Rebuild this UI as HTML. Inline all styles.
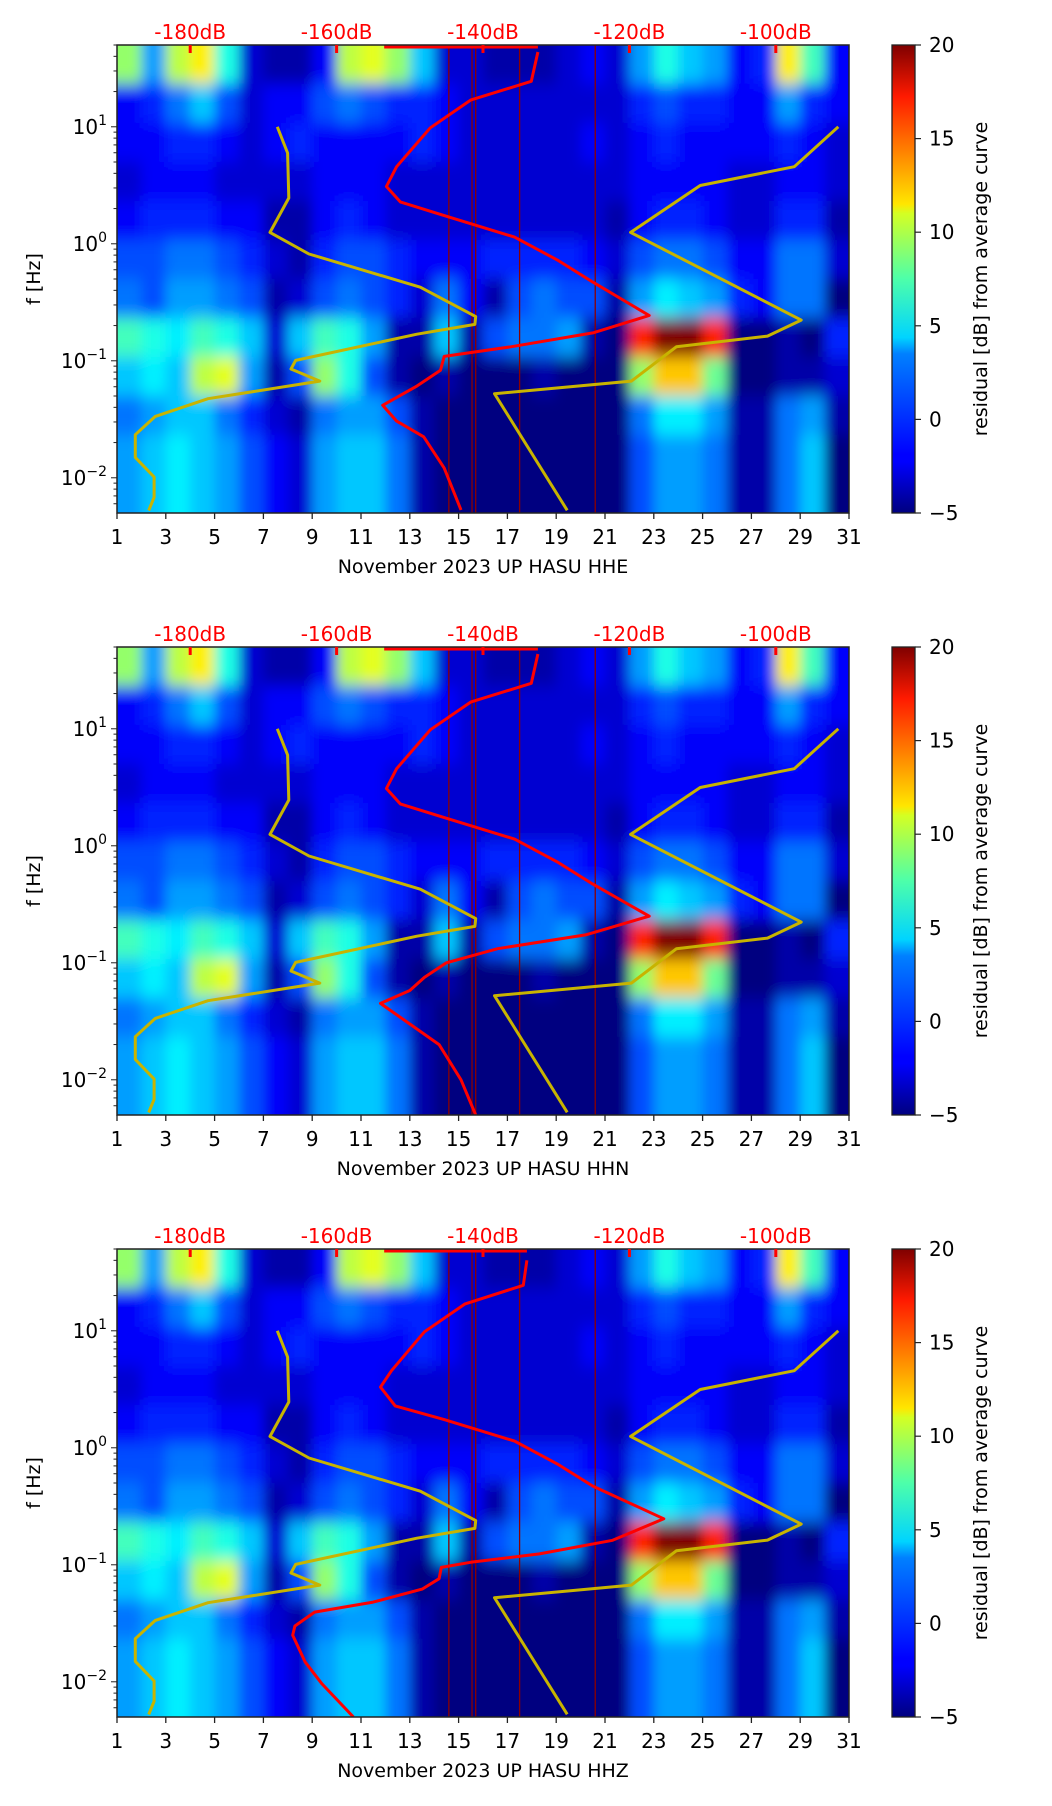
<!DOCTYPE html>
<html><head><meta charset="utf-8">
<style>
html,body{margin:0;padding:0;background:#fff;}
body{width:1052px;height:1806px;overflow:hidden;}
svg{display:block;font-family:"DejaVu Sans","Liberation Sans",sans-serif;}
</style></head>
<body>
<svg id="fig" width="1052" height="1806" viewBox="0 0 1052 1806" xmlns="http://www.w3.org/2000/svg">
<defs>
<linearGradient id="jet" x1="0" y1="1" x2="0" y2="0">
<stop offset="0" stop-color="#00007f"/><stop offset="0.11" stop-color="#0000ff"/><stop offset="0.125" stop-color="#0000ff"/>
<stop offset="0.34" stop-color="#0080ff"/><stop offset="0.375" stop-color="#00d4ff"/><stop offset="0.5" stop-color="#4dffaa"/>
<stop offset="0.64" stop-color="#d4ff23"/><stop offset="0.66" stop-color="#ffe600"/><stop offset="0.89" stop-color="#ff1a00"/>
<stop offset="1" stop-color="#7f0000"/>
</linearGradient>
<filter id="blur" x="-5%" y="-5%" width="110%" height="110%"><feGaussianBlur stdDeviation="6 8" edgeMode="duplicate"/></filter>
</defs>
</svg>
<script>
// ---- data ----
const days = [1,2,3,4,5,6,7,8,9,10,11,12,13,14,15,16,17,18,19,20,21,22,23,24,25,26,27,28,29,30];
const bandLogTop = [1.7,1.367,1.033,0.7,0.367,0.033,-0.3,-0.633,-0.967,-1.3,-1.633,-1.967];
const resid = [
 [8,2,9,11,5,-3,-4,-4,-2,9,10,8,3,-3,-3,-4,-4,-4,-3,-2,-3,2,5,3,2,-2,-1,11,6,-2],
 [-2,-1,1,3,0,-3,-2,-2,0,1,0,-1,-1,-2,-3,-3,-3,-3,-3,-3,-3,-1,0,-1,-1,-2,-2,2,-1,-2],
 [-2,-2,-1,-1,-2,-3,-2,-1,-2,-2,-2,-2,-1,-2,-3,-3,-3,-3,-3,-2,-3,-2,-1,-2,-2,-2,-2,-1,-2,-3],
 [-3,-2,-2,-2,-3,-3,-3,-3,-2,-2,-2,-3,-3,-3,-3,-3,-3,-3,-3,-3,-3,-2,-2,-2,-2,-3,-3,-2,-2,-3],
 [-2,-1,-1,-1,-2,-2,-4,-4,-2,-1,-2,-3,-3,-3,-3,-3,-3,-3,-3,-3,-4,-2,-1,-1,-2,-3,-3,-1,-1,-4],
 [0,0,1,1,0,-1,-3,-4,-1,0,0,-1,-2,-2,-2,-1,-1,-1,-1,-2,-3,0,1,1,0,-2,-2,1,1,-3],
 [1,0,2,2,1,0,-4,-3,0,1,0,-1,-3,1,-2,-4,0,1,0,0,-4,2,4,3,2,-1,-2,1,1,-5],
 [6,5,4,6,5,3,-3,3,6,5,2,-4,-4,3,-4,0,1,1,2,-4,-5,16,25,25,16,-5,-5,-4,-5,-1],
 [3,4,3,9,10,2,-4,0,8,5,0,-4,-5,-4,-5,-5,-5,-4,-5,-5,-5,8,12,12,7,-5,-5,-4,-4,-3],
 [1,2,3,3,1,-1,-3,-4,1,2,2,0,-4,-5,-5,-5,-5,-5,-5,-5,-5,1,4,4,2,-4,-4,1,2,-4],
 [2,3,4,3,2,0,-2,-3,2,3,3,1,-4,-5,-5,-5,-5,-5,-5,-5,-5,0,2,2,1,-4,-4,1,3,-5],
 [2,3,4,3,2,0,-2,-3,2,3,3,1,-4,-5,-5,-5,-5,-5,-5,-5,-5,0,2,2,1,-4,-4,1,3,-5]
];
const xTicks = [1,3,5,7,9,11,13,15,17,19,21,23,25,27,29,31];
const topTicksDb = [-180,-160,-140,-120,-100];
const cbTicks = [-5,0,5,10,15,20];
const darkLines = [14.6,15.55,15.7,17.5,20.6];
const redFreq1 = [43.6,24.5,16.9,9.8,4.56,3.09,2.28,1.74,1.14,0.718,0.47,0.244,0.173,0.132,0.109,0.083,0.061,0.0416,0.0305,0.0224,0.0121,0.0053];
const redDb1 = [-132.5,-133.4,-141.7,-147.2,-151.8,-153.2,-151.3,-145.3,-135.7,-129.7,-125,-117.3,-125,-136.1,-145.3,-145.8,-149,-153.7,-151.8,-148.1,-145.3,-143];
const redFreq2 = [43.6,24.5,16.9,9.8,4.56,3.09,2.28,1.74,1.14,0.718,0.47,0.25,0.173,0.132,0.1,0.075,0.058,0.045,0.03,0.02,0.01,0.005];
const redDb2 = [-132.5,-133.4,-141.7,-147.2,-151.8,-153.2,-151.3,-145.3,-135.7,-129.7,-125,-117.3,-126,-138,-145,-148,-150,-154,-150,-146,-143,-141];
const redFreq3 = [40,24.5,16.9,9.8,4.56,3.3,2.28,1.74,1.14,0.718,0.47,0.247,0.162,0.124,0.105,0.095,0.076,0.062,0.048,0.0394,0.030,0.025,0.0148,0.0096,0.005];
const redDb3 = [-134,-134.5,-142.5,-148,-152.5,-154,-152,-145.3,-135.7,-129.7,-125,-115.3,-122.3,-132.3,-141.7,-145.7,-146,-148.3,-155,-163,-165.7,-166,-164.3,-162,-157.7];
const yelDayA = [7.57,7.99,8.04,7.27,8.87,13.43,15.70,15.67,13.29,8.32,8.13,9.31,4.73,2.57,1.75,1.75,2.52,2.52,2.30];
const yelLogA = [1,0.776,0.391,0.097,-0.087,-0.371,-0.622,-0.689,-0.773,-0.997,-1.07,-1.174,-1.324,-1.475,-1.632,-1.826,-1.993,-2.167,-2.28];
const yelDayB = [30.56,28.76,24.9,22.05,29.04,27.66,23.93,22.08,16.47,19.45];
const yelLogB = [1,0.659,0.498,0.097,-0.652,-0.789,-0.88,-1.174,-1.281,-2.278];
const panels = ["HHE","HHN","HHZ"];
const panelTop = [45,647,1249];

// ---- helpers ----
const NS="http://www.w3.org/2000/svg";
const svg=document.getElementById('fig');
const X0=117,X1=849,H=468,LOGTOP=1.699,LOGBOT=-2.301;
function mk(t,a,p){const e=document.createElementNS(NS,t);for(const k in a)e.setAttribute(k,a[k]);(p||svg).appendChild(e);return e;}
function xDay(d){return X0+(d-1)/30*(X1-X0);}
function xDb(db){return xDay(4+(db+180)*0.3);}
function yLog(l,top){return top+(LOGTOP-l)/(LOGTOP-LOGBOT)*H;}
function jet(v){let t=(v+5)/25;t=Math.max(0,Math.min(1,t));
 const c=x=>Math.round(255*Math.max(0,Math.min(1,x)));
 const r=c(1.5-Math.abs(4*t-3)),g=c(1.5-Math.abs(4*t-2)),b=c(1.5-Math.abs(4*t-1));return `rgb(${r},${g},${b})`;}

panels.forEach((name,pi)=>{
 const top=panelTop[pi],bot=top+H;
 const g=mk('g',{});
 
 
 const cid='clip'+pi;
 const cp=mk('clipPath',{id:cid},g);mk('rect',{x:X0,y:top,width:X1-X0,height:H},cp);
 const hm=mk('g',{'clip-path':`url(#${cid})`},g);
 const hmInner=mk('g',{filter:'url(#blur)'},hm);
 
 
 mk('rect',{x:X0-30,y:top-30,width:X1-X0+60,height:H+60,fill:'#00007f'},hmInner);
 resid.forEach((row,ri)=>{
  const lt=bandLogTop[ri],lb=lt-0.3333;
  const y0=ri===0?top-30:yLog(lt,top),y1=ri===resid.length-1?bot+30:yLog(lb,top);
  row.forEach((v,di)=>{
   const x0=di===0?X0-30:xDay(days[di]),x1=di===row.length-1?X1+30:xDay(days[di]+1);
   const c=mk('rect',{x:x0,y:y0,width:x1-x0+0.5,height:y1-y0+0.5,fill:jet(v)},hmInner);
   
   
  });
 });
 darkLines.forEach(d=>{const l=mk('line',{x1:xDay(d),x2:xDay(d),y1:top,y2:bot,stroke:'#8b0000','stroke-width':1.3},hm);
  });
 [[yelDayA,yelLogA],[yelDayB,yelLogB]].forEach(([ds,ls],k)=>{
  const pts=ds.map((d,i)=>xDay(d).toFixed(1)+','+yLog(ls[i],top).toFixed(1)).join(' ');
  const pl=mk('polyline',{points:pts,fill:'none',stroke:'#c8b400','stroke-width':3,'stroke-linejoin':'round'},hm);
  
 });
 const rf=[redFreq1,redFreq2,redFreq3][pi],rd=[redDb1,redDb2,redDb3][pi];
 const rpts=rd.map((db,i)=>xDb(db).toFixed(1)+','+yLog(Math.log10(rf[i]),top).toFixed(1)).join(' ');
 const rl=mk('polyline',{points:rpts,fill:'none',stroke:'#ff0000','stroke-width':3,'stroke-linejoin':'round'},hm);
 
 const rt=mk('line',{x1:xDb(-153.5),x2:xDb(rd[0]),y1:top+2,y2:top+2,stroke:'#ff0000','stroke-width':3},hm);
 
 mk('rect',{x:X0,y:top,width:X1-X0,height:H,fill:'none',stroke:'#222','stroke-width':1.5},g);
 xTicks.forEach(d=>{const x=xDay(d);mk('line',{x1:x,x2:x,y1:bot,y2:bot+6,stroke:'#222','stroke-width':1.3},g);
  const t=mk('text',{x:x,y:bot+31,'font-size':20,'text-anchor':'middle',fill:'#000'},g);t.textContent=d;
  });
 topTicksDb.forEach(db=>{const x=xDb(db);mk('line',{x1:x,x2:x,y1:top,y2:top+8,stroke:'#ff0000','stroke-width':3},g);
  const t=mk('text',{x:x,y:top-6,'font-size':20,'text-anchor':'middle',fill:'#ff0000'},g);t.textContent=db+'dB';
  });
 for(let e=-3;e<=1;e++){for(let m=1;m<10;m++){const l=e+Math.log10(m);if(l>LOGTOP||l<LOGBOT)continue;
  const y=yLog(l,top);mk('line',{x1:X0-(m===1?6:3.5),x2:X0,y1:y,y2:y,stroke:'#222','stroke-width':1},g);
  if(m===1){const t=mk('text',{x:X0-10,y:y+7,'font-size':20,'text-anchor':'end',fill:'#000'},g);
   
   t.appendChild(document.createTextNode('10'));const s=mk('tspan',{dy:-9,'font-size':14},t);s.textContent=e<0?'\u2212'+(-e):String(e);}}}
 const yl=mk('text',{x:0,y:0,'font-size':19,'text-anchor':'middle',transform:`translate(40,${top+H/2}) rotate(-90)`},g);
 yl.textContent='f [Hz]';
 const xl=mk('text',{x:(X0+X1)/2,y:bot+60,'font-size':19,'text-anchor':'middle'},g);
 xl.textContent='November 2023 UP HASU  '+name;
 const cb=mk('rect',{x:892,y:top,width:23,height:H,fill:'url(#jet)',stroke:'#222','stroke-width':1.3},g);
 
 cbTicks.forEach(v=>{const y=top+H-(v+5)/25*H;mk('line',{x1:915,x2:921,y1:y,y2:y,stroke:'#222','stroke-width':1.2},g);
  const t=mk('text',{x:929,y:y+7,'font-size':20,fill:'#000'},g);t.textContent=v<0?'\u2212'+(-v):v;
  });
 const cl=mk('text',{x:0,y:0,'font-size':19,'text-anchor':'middle',transform:`translate(987,${top+H/2}) rotate(-90)`},g);
 cl.textContent='residual [dB] from average curve';
});
</script>
</body></html>
